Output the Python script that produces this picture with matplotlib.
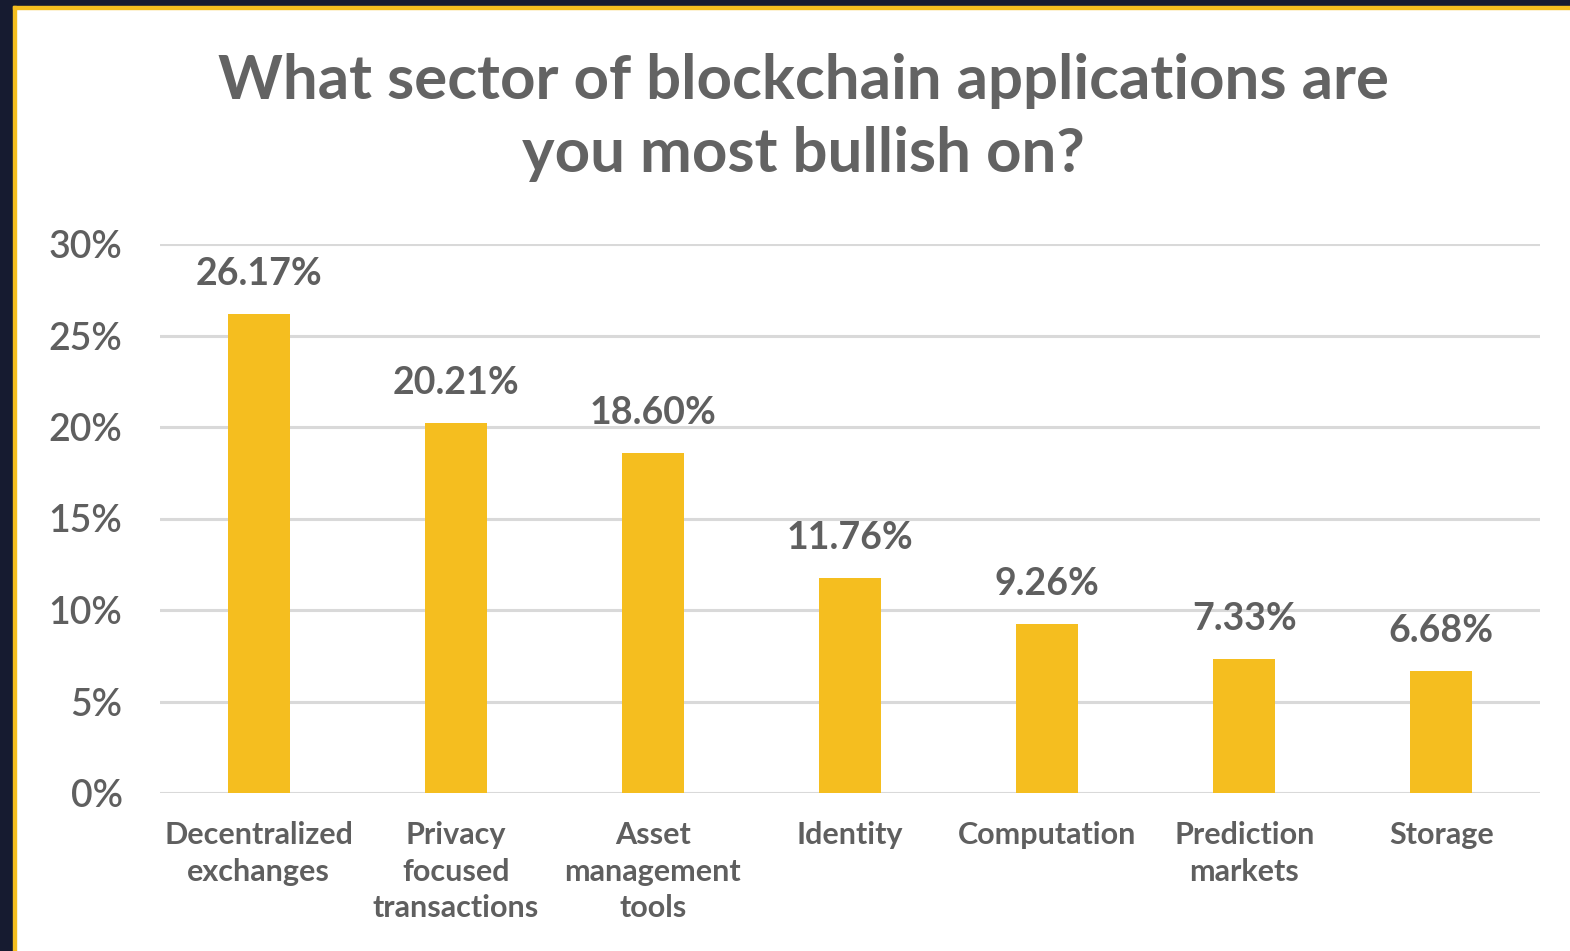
import matplotlib.pyplot as plt
import matplotlib.patches as patches

# Survey results
categories = ["Decentralized\nexchanges", "Privacy\nfocused\ntransactions",
              "Asset\nmanagement\ntools", "Identity", "Computation",
              "Prediction\nmarkets", "Storage"]
values = [26.17, 20.21, 18.60, 11.76, 9.26, 7.33, 6.68]
yticks = [0, 5, 10, 15, 20, 25, 30]

plt.rcParams['font.family'] = ['Lato', 'DejaVu Sans']

bar_color = '#F5BE1F'
text_color = '#5f5f5f'
grid_color = '#d9d9d9'

fig = plt.figure(figsize=(15.7, 9.51), dpi=100)
fig.patch.set_facecolor('white')

# dark frame on the left and top with a thin yellow line
W, H = 1570, 951
fig.add_artist(patches.Rectangle((0, 0), 13 / W, 1, transform=fig.transFigure,
                                 color='#161b30', zorder=0))
fig.add_artist(patches.Rectangle((0, 1 - 6 / H), 1, 6 / H, transform=fig.transFigure,
                                 color='#161b30', zorder=0))
fig.add_artist(patches.Rectangle((13 / W, 0), 3 / W, 1 - 6 / H, transform=fig.transFigure,
                                 color='#F5BE1F', zorder=1))
fig.add_artist(patches.Rectangle((13 / W, 1 - 9 / H), 1, 3 / H, transform=fig.transFigure,
                                 color='#F5BE1F', zorder=1))

ax = fig.add_axes([160 / W, 158 / H, 1380 / W, 549 / H])

x = list(range(len(categories)))
ax.bar(x, values, width=0.315, color=bar_color, zorder=3)

for xi, v in zip(x, values):
    ax.text(xi, v + 1.25, f"{v:.2f}%", ha='center', va='bottom',
            fontsize=27, fontweight='bold', color=text_color)

ax.set_xlim(-0.5, len(categories) - 0.5)
ax.set_ylim(0, 30)
ax.set_yticks(yticks)
ax.set_yticklabels([f"{t}%" for t in yticks], fontsize=27, fontweight='semibold',
                   color=text_color)
ax.set_xticks(x)
ax.set_xticklabels(categories, fontsize=22, fontweight='bold', color=text_color,
                   linespacing=1.38)
ax.tick_params(axis='both', length=0)
ax.tick_params(axis='y', pad=27)
ax.tick_params(axis='x', pad=20)
ax.yaxis.grid(True, color=grid_color, linewidth=2.2, zorder=0)
ax.set_axisbelow(True)
for s in ax.spines.values():
    s.set_visible(False)

fig.text(0.512, 1 - 81 / H, "What sector of blockchain applications are",
         ha='center', va='center', fontsize=44.5, fontweight='bold', color='#636363')
fig.text(0.512, 1 - 154 / H, "you most bullish on?",
         ha='center', va='center', fontsize=44.5, fontweight='bold', color='#636363')

plt.savefig('out.png', dpi=100)
